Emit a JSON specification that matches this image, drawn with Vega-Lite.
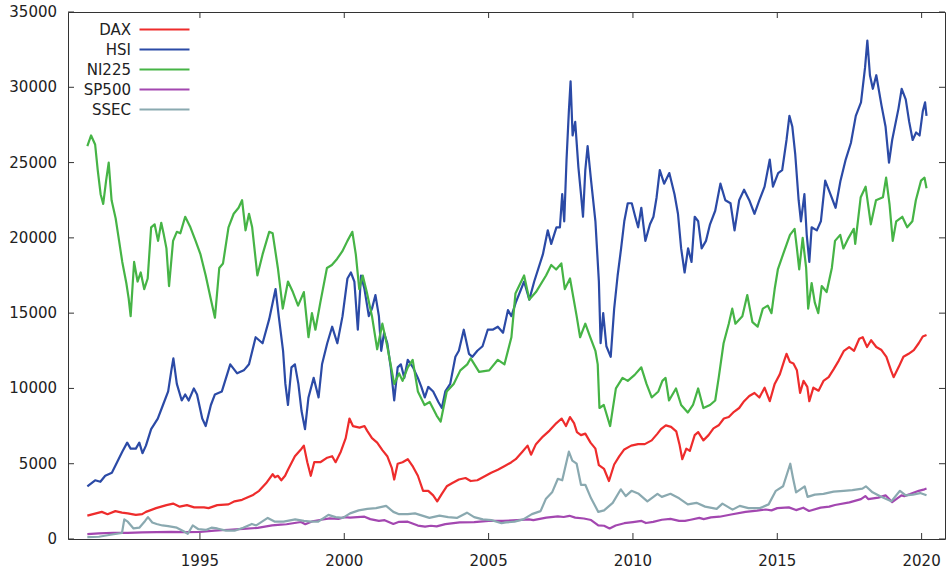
{
"$schema": "https://vega.github.io/schema/vega-lite/v6.json",
"width": 877, "height": 527,
"autosize": "none",
"padding": {"left": 68, "top": 12, "right": 5, "bottom": 32},
"background": "white",
"config": {
  "view": {"stroke": "#333", "strokeWidth": 1},
  "font": "DejaVu Sans"
},
"datasets": {
"xt": [{"tx":1995},{"tx":2000},{"tx":2005},{"tx":2010},{"tx":2015},{"tx":2020}],
"yt": [{"ty":0},{"ty":5000},{"ty":10000},{"ty":15000},{"ty":20000},{"ty":25000},{"ty":30000},{"ty":35000}],
"idx": [
{"s":"DAX","t":1991.1,"v":1550},{"s":"DAX","t":1991.3,"v":1650},{"s":"DAX","t":1991.6,"v":1800},{"s":"DAX","t":1991.8,"v":1650},{"s":"DAX","t":1992.07,"v":1850},{"s":"DAX","t":1992.3,"v":1750},{"s":"DAX","t":1992.5,"v":1700},{"s":"DAX","t":1992.78,"v":1600},{"s":"DAX","t":1993.0,"v":1650},{"s":"DAX","t":1993.13,"v":1800},{"s":"DAX","t":1993.48,"v":2050},{"s":"DAX","t":1993.84,"v":2250},{"s":"DAX","t":1994.07,"v":2350},{"s":"DAX","t":1994.3,"v":2150},{"s":"DAX","t":1994.55,"v":2250},{"s":"DAX","t":1994.8,"v":2100},{"s":"DAX","t":1995.14,"v":2100},{"s":"DAX","t":1995.3,"v":2050},{"s":"DAX","t":1995.6,"v":2250},{"s":"DAX","t":1995.99,"v":2300},{"s":"DAX","t":1996.2,"v":2500},{"s":"DAX","t":1996.46,"v":2600},{"s":"DAX","t":1996.82,"v":2900},{"s":"DAX","t":1997.05,"v":3200},{"s":"DAX","t":1997.29,"v":3700},{"s":"DAX","t":1997.52,"v":4300},{"s":"DAX","t":1997.6,"v":4100},{"s":"DAX","t":1997.7,"v":4200},{"s":"DAX","t":1997.82,"v":3900},{"s":"DAX","t":1997.95,"v":4200},{"s":"DAX","t":1998.05,"v":4600},{"s":"DAX","t":1998.29,"v":5500},{"s":"DAX","t":1998.52,"v":6000},{"s":"DAX","t":1998.6,"v":6200},{"s":"DAX","t":1998.72,"v":5100},{"s":"DAX","t":1998.84,"v":4200},{"s":"DAX","t":1998.96,"v":5100},{"s":"DAX","t":1999.17,"v":5100},{"s":"DAX","t":1999.41,"v":5400},{"s":"DAX","t":1999.58,"v":5500},{"s":"DAX","t":1999.7,"v":5100},{"s":"DAX","t":1999.88,"v":5800},{"s":"DAX","t":2000.05,"v":6700},{"s":"DAX","t":2000.18,"v":8000},{"s":"DAX","t":2000.3,"v":7500},{"s":"DAX","t":2000.53,"v":7400},{"s":"DAX","t":2000.7,"v":7500},{"s":"DAX","t":2000.79,"v":7200},{"s":"DAX","t":2000.96,"v":6700},{"s":"DAX","t":2001.14,"v":6400},{"s":"DAX","t":2001.32,"v":5900},{"s":"DAX","t":2001.49,"v":5500},{"s":"DAX","t":2001.65,"v":4700},{"s":"DAX","t":2001.73,"v":3950},{"s":"DAX","t":2001.85,"v":5000},{"s":"DAX","t":2002.02,"v":5100},{"s":"DAX","t":2002.2,"v":5300},{"s":"DAX","t":2002.38,"v":4800},{"s":"DAX","t":2002.55,"v":4200},{"s":"DAX","t":2002.73,"v":3200},{"s":"DAX","t":2002.91,"v":3200},{"s":"DAX","t":2003.08,"v":2900},{"s":"DAX","t":2003.22,"v":2500},{"s":"DAX","t":2003.38,"v":3000},{"s":"DAX","t":2003.55,"v":3500},{"s":"DAX","t":2003.73,"v":3700},{"s":"DAX","t":2003.97,"v":3950},{"s":"DAX","t":2004.2,"v":4050},{"s":"DAX","t":2004.38,"v":3850},{"s":"DAX","t":2004.61,"v":3900},{"s":"DAX","t":2004.85,"v":4150},{"s":"DAX","t":2005.09,"v":4400},{"s":"DAX","t":2005.32,"v":4600},{"s":"DAX","t":2005.56,"v":4850},{"s":"DAX","t":2005.79,"v":5100},{"s":"DAX","t":2005.94,"v":5300},{"s":"DAX","t":2006.17,"v":5800},{"s":"DAX","t":2006.35,"v":6200},{"s":"DAX","t":2006.47,"v":5600},{"s":"DAX","t":2006.64,"v":6300},{"s":"DAX","t":2006.88,"v":6800},{"s":"DAX","t":2007.11,"v":7200},{"s":"DAX","t":2007.35,"v":7700},{"s":"DAX","t":2007.53,"v":8000},{"s":"DAX","t":2007.68,"v":7500},{"s":"DAX","t":2007.82,"v":8100},{"s":"DAX","t":2007.96,"v":7700},{"s":"DAX","t":2008.06,"v":7100},{"s":"DAX","t":2008.2,"v":6900},{"s":"DAX","t":2008.35,"v":7000},{"s":"DAX","t":2008.53,"v":6400},{"s":"DAX","t":2008.7,"v":6000},{"s":"DAX","t":2008.82,"v":4900},{"s":"DAX","t":2009.0,"v":4650},{"s":"DAX","t":2009.17,"v":3850},{"s":"DAX","t":2009.35,"v":4950},{"s":"DAX","t":2009.53,"v":5500},{"s":"DAX","t":2009.7,"v":5950},{"s":"DAX","t":2009.94,"v":6200},{"s":"DAX","t":2010.18,"v":6300},{"s":"DAX","t":2010.41,"v":6300},{"s":"DAX","t":2010.65,"v":6550},{"s":"DAX","t":2010.85,"v":7000},{"s":"DAX","t":2010.97,"v":7300},{"s":"DAX","t":2011.14,"v":7550},{"s":"DAX","t":2011.32,"v":7450},{"s":"DAX","t":2011.5,"v":7150},{"s":"DAX","t":2011.61,"v":6300},{"s":"DAX","t":2011.71,"v":5300},{"s":"DAX","t":2011.85,"v":6000},{"s":"DAX","t":2011.97,"v":5850},{"s":"DAX","t":2012.14,"v":6900},{"s":"DAX","t":2012.26,"v":7100},{"s":"DAX","t":2012.44,"v":6550},{"s":"DAX","t":2012.62,"v":6900},{"s":"DAX","t":2012.79,"v":7350},{"s":"DAX","t":2012.97,"v":7550},{"s":"DAX","t":2013.15,"v":8000},{"s":"DAX","t":2013.32,"v":8100},{"s":"DAX","t":2013.5,"v":8450},{"s":"DAX","t":2013.68,"v":8700},{"s":"DAX","t":2013.85,"v":9150},{"s":"DAX","t":2014.03,"v":9500},{"s":"DAX","t":2014.21,"v":9700},{"s":"DAX","t":2014.38,"v":9400},{"s":"DAX","t":2014.56,"v":10050},{"s":"DAX","t":2014.74,"v":9150},{"s":"DAX","t":2014.91,"v":10300},{"s":"DAX","t":2015.09,"v":10950},{"s":"DAX","t":2015.24,"v":11850},{"s":"DAX","t":2015.32,"v":12300},{"s":"DAX","t":2015.44,"v":11750},{"s":"DAX","t":2015.56,"v":11650},{"s":"DAX","t":2015.68,"v":11200},{"s":"DAX","t":2015.79,"v":9700},{"s":"DAX","t":2015.91,"v":10500},{"s":"DAX","t":2016.04,"v":10100},{"s":"DAX","t":2016.11,"v":9150},{"s":"DAX","t":2016.25,"v":10050},{"s":"DAX","t":2016.43,"v":9850},{"s":"DAX","t":2016.6,"v":10500},{"s":"DAX","t":2016.78,"v":10750},{"s":"DAX","t":2016.96,"v":11300},{"s":"DAX","t":2017.13,"v":11850},{"s":"DAX","t":2017.31,"v":12500},{"s":"DAX","t":2017.49,"v":12750},{"s":"DAX","t":2017.66,"v":12500},{"s":"DAX","t":2017.84,"v":13300},{"s":"DAX","t":2017.96,"v":13400},{"s":"DAX","t":2018.11,"v":12750},{"s":"DAX","t":2018.25,"v":13200},{"s":"DAX","t":2018.43,"v":12750},{"s":"DAX","t":2018.61,"v":12550},{"s":"DAX","t":2018.78,"v":12100},{"s":"DAX","t":2018.94,"v":11200},{"s":"DAX","t":2019.03,"v":10750},{"s":"DAX","t":2019.2,"v":11400},{"s":"DAX","t":2019.37,"v":12100},{"s":"DAX","t":2019.55,"v":12300},{"s":"DAX","t":2019.73,"v":12550},{"s":"DAX","t":2019.9,"v":13000},{"s":"DAX","t":2020.04,"v":13450},{"s":"DAX","t":2020.17,"v":13550},
{"s":"HSI","t":1991.1,"v":3500},{"s":"HSI","t":1991.37,"v":3900},{"s":"HSI","t":1991.55,"v":3800},{"s":"HSI","t":1991.72,"v":4200},{"s":"HSI","t":1991.95,"v":4400},{"s":"HSI","t":1992.13,"v":5100},{"s":"HSI","t":1992.31,"v":5800},{"s":"HSI","t":1992.48,"v":6400},{"s":"HSI","t":1992.6,"v":6000},{"s":"HSI","t":1992.78,"v":6000},{"s":"HSI","t":1992.9,"v":6400},{"s":"HSI","t":1993.01,"v":5700},{"s":"HSI","t":1993.13,"v":6200},{"s":"HSI","t":1993.31,"v":7300},{"s":"HSI","t":1993.54,"v":8000},{"s":"HSI","t":1993.72,"v":8900},{"s":"HSI","t":1993.9,"v":9800},{"s":"HSI","t":1994.01,"v":11200},{"s":"HSI","t":1994.08,"v":12000},{"s":"HSI","t":1994.2,"v":10300},{"s":"HSI","t":1994.37,"v":9200},{"s":"HSI","t":1994.49,"v":9600},{"s":"HSI","t":1994.61,"v":9200},{"s":"HSI","t":1994.79,"v":10000},{"s":"HSI","t":1994.9,"v":9600},{"s":"HSI","t":1995.08,"v":8000},{"s":"HSI","t":1995.2,"v":7500},{"s":"HSI","t":1995.38,"v":8900},{"s":"HSI","t":1995.52,"v":9600},{"s":"HSI","t":1995.76,"v":9800},{"s":"HSI","t":1996.05,"v":11600},{"s":"HSI","t":1996.29,"v":11000},{"s":"HSI","t":1996.52,"v":11200},{"s":"HSI","t":1996.7,"v":11600},{"s":"HSI","t":1996.93,"v":13400},{"s":"HSI","t":1997.17,"v":13000},{"s":"HSI","t":1997.4,"v":14600},{"s":"HSI","t":1997.62,"v":16600},{"s":"HSI","t":1997.73,"v":14800},{"s":"HSI","t":1997.88,"v":12500},{"s":"HSI","t":1997.96,"v":10300},{"s":"HSI","t":1998.05,"v":8900},{"s":"HSI","t":1998.17,"v":11400},{"s":"HSI","t":1998.29,"v":11600},{"s":"HSI","t":1998.41,"v":10300},{"s":"HSI","t":1998.52,"v":8500},{"s":"HSI","t":1998.64,"v":7300},{"s":"HSI","t":1998.76,"v":9400},{"s":"HSI","t":1998.94,"v":10700},{"s":"HSI","t":1999.11,"v":9400},{"s":"HSI","t":1999.23,"v":11600},{"s":"HSI","t":1999.41,"v":13000},{"s":"HSI","t":1999.58,"v":14100},{"s":"HSI","t":1999.76,"v":13000},{"s":"HSI","t":1999.94,"v":14800},{"s":"HSI","t":2000.11,"v":17300},{"s":"HSI","t":2000.23,"v":17700},{"s":"HSI","t":2000.35,"v":17100},{"s":"HSI","t":2000.47,"v":13900},{"s":"HSI","t":2000.58,"v":17500},{"s":"HSI","t":2000.7,"v":16600},{"s":"HSI","t":2000.85,"v":14800},{"s":"HSI","t":2000.96,"v":15300},{"s":"HSI","t":2001.08,"v":16200},{"s":"HSI","t":2001.2,"v":14800},{"s":"HSI","t":2001.28,"v":12500},{"s":"HSI","t":2001.38,"v":13700},{"s":"HSI","t":2001.49,"v":13000},{"s":"HSI","t":2001.61,"v":11400},{"s":"HSI","t":2001.73,"v":9200},{"s":"HSI","t":2001.85,"v":11400},{"s":"HSI","t":2001.96,"v":11600},{"s":"HSI","t":2002.08,"v":10700},{"s":"HSI","t":2002.2,"v":11900},{"s":"HSI","t":2002.38,"v":11400},{"s":"HSI","t":2002.55,"v":10700},{"s":"HSI","t":2002.67,"v":10100},{"s":"HSI","t":2002.79,"v":9400},{"s":"HSI","t":2002.91,"v":10100},{"s":"HSI","t":2003.08,"v":9800},{"s":"HSI","t":2003.26,"v":9100},{"s":"HSI","t":2003.38,"v":8700},{"s":"HSI","t":2003.5,"v":9800},{"s":"HSI","t":2003.67,"v":10300},{"s":"HSI","t":2003.85,"v":12100},{"s":"HSI","t":2003.97,"v":12500},{"s":"HSI","t":2004.14,"v":13900},{"s":"HSI","t":2004.32,"v":12300},{"s":"HSI","t":2004.44,"v":12100},{"s":"HSI","t":2004.61,"v":12500},{"s":"HSI","t":2004.79,"v":12800},{"s":"HSI","t":2004.97,"v":13900},{"s":"HSI","t":2005.14,"v":13900},{"s":"HSI","t":2005.32,"v":14100},{"s":"HSI","t":2005.5,"v":13700},{"s":"HSI","t":2005.67,"v":15200},{"s":"HSI","t":2005.79,"v":14800},{"s":"HSI","t":2005.94,"v":15700},{"s":"HSI","t":2006.23,"v":17100},{"s":"HSI","t":2006.41,"v":15900},{"s":"HSI","t":2006.58,"v":17100},{"s":"HSI","t":2006.88,"v":18900},{"s":"HSI","t":2007.05,"v":20500},{"s":"HSI","t":2007.17,"v":19600},{"s":"HSI","t":2007.35,"v":20700},{"s":"HSI","t":2007.47,"v":20700},{"s":"HSI","t":2007.55,"v":22900},{"s":"HSI","t":2007.62,"v":21100},{"s":"HSI","t":2007.7,"v":25200},{"s":"HSI","t":2007.78,"v":28400},{"s":"HSI","t":2007.84,"v":30400},{"s":"HSI","t":2007.91,"v":26800},{"s":"HSI","t":2008.0,"v":27700},{"s":"HSI","t":2008.11,"v":24700},{"s":"HSI","t":2008.2,"v":22900},{"s":"HSI","t":2008.27,"v":21400},{"s":"HSI","t":2008.35,"v":24500},{"s":"HSI","t":2008.43,"v":26100},{"s":"HSI","t":2008.55,"v":23800},{"s":"HSI","t":2008.7,"v":21100},{"s":"HSI","t":2008.82,"v":17100},{"s":"HSI","t":2008.88,"v":13000},{"s":"HSI","t":2008.97,"v":15000},{"s":"HSI","t":2009.08,"v":12800},{"s":"HSI","t":2009.23,"v":12100},{"s":"HSI","t":2009.35,"v":15300},{"s":"HSI","t":2009.47,"v":17500},{"s":"HSI","t":2009.59,"v":19300},{"s":"HSI","t":2009.7,"v":21100},{"s":"HSI","t":2009.82,"v":22300},{"s":"HSI","t":2009.96,"v":22300},{"s":"HSI","t":2010.08,"v":21400},{"s":"HSI","t":2010.18,"v":20700},{"s":"HSI","t":2010.29,"v":22000},{"s":"HSI","t":2010.43,"v":19800},{"s":"HSI","t":2010.59,"v":20900},{"s":"HSI","t":2010.71,"v":21400},{"s":"HSI","t":2010.82,"v":22700},{"s":"HSI","t":2010.93,"v":24500},{"s":"HSI","t":2011.08,"v":23600},{"s":"HSI","t":2011.26,"v":24300},{"s":"HSI","t":2011.44,"v":22900},{"s":"HSI","t":2011.56,"v":21600},{"s":"HSI","t":2011.67,"v":19300},{"s":"HSI","t":2011.79,"v":17700},{"s":"HSI","t":2011.91,"v":19300},{"s":"HSI","t":2012.03,"v":18400},{"s":"HSI","t":2012.14,"v":21400},{"s":"HSI","t":2012.26,"v":21100},{"s":"HSI","t":2012.38,"v":19300},{"s":"HSI","t":2012.53,"v":19800},{"s":"HSI","t":2012.67,"v":20900},{"s":"HSI","t":2012.85,"v":21800},{"s":"HSI","t":2013.03,"v":23600},{"s":"HSI","t":2013.2,"v":22500},{"s":"HSI","t":2013.38,"v":22300},{"s":"HSI","t":2013.52,"v":20500},{"s":"HSI","t":2013.68,"v":22500},{"s":"HSI","t":2013.85,"v":23200},{"s":"HSI","t":2014.03,"v":22500},{"s":"HSI","t":2014.21,"v":21600},{"s":"HSI","t":2014.38,"v":22500},{"s":"HSI","t":2014.56,"v":23400},{"s":"HSI","t":2014.74,"v":25200},{"s":"HSI","t":2014.85,"v":23400},{"s":"HSI","t":2015.03,"v":24300},{"s":"HSI","t":2015.17,"v":24500},{"s":"HSI","t":2015.32,"v":26500},{"s":"HSI","t":2015.42,"v":28100},{"s":"HSI","t":2015.52,"v":27400},{"s":"HSI","t":2015.62,"v":25600},{"s":"HSI","t":2015.74,"v":22500},{"s":"HSI","t":2015.82,"v":21100},{"s":"HSI","t":2015.94,"v":22900},{"s":"HSI","t":2016.02,"v":20200},{"s":"HSI","t":2016.11,"v":18400},{"s":"HSI","t":2016.19,"v":20700},{"s":"HSI","t":2016.37,"v":20500},{"s":"HSI","t":2016.51,"v":21100},{"s":"HSI","t":2016.66,"v":23800},{"s":"HSI","t":2016.84,"v":22900},{"s":"HSI","t":2017.02,"v":22000},{"s":"HSI","t":2017.19,"v":23800},{"s":"HSI","t":2017.37,"v":25200},{"s":"HSI","t":2017.55,"v":26300},{"s":"HSI","t":2017.72,"v":28100},{"s":"HSI","t":2017.9,"v":29000},{"s":"HSI","t":2018.04,"v":31300},{"s":"HSI","t":2018.12,"v":33100},{"s":"HSI","t":2018.21,"v":30800},{"s":"HSI","t":2018.31,"v":29900},{"s":"HSI","t":2018.43,"v":30800},{"s":"HSI","t":2018.61,"v":28800},{"s":"HSI","t":2018.75,"v":27400},{"s":"HSI","t":2018.87,"v":25000},{"s":"HSI","t":2018.98,"v":26500},{"s":"HSI","t":2019.2,"v":28600},{"s":"HSI","t":2019.31,"v":29900},{"s":"HSI","t":2019.45,"v":29200},{"s":"HSI","t":2019.57,"v":27700},{"s":"HSI","t":2019.69,"v":26500},{"s":"HSI","t":2019.81,"v":27000},{"s":"HSI","t":2019.93,"v":26800},{"s":"HSI","t":2020.04,"v":28400},{"s":"HSI","t":2020.12,"v":29000},{"s":"HSI","t":2020.17,"v":28100},
{"s":"NI225","t":1991.1,"v":26100},{"s":"NI225","t":1991.23,"v":26800},{"s":"NI225","t":1991.37,"v":26200},{"s":"NI225","t":1991.46,"v":24500},{"s":"NI225","t":1991.56,"v":22900},{"s":"NI225","t":1991.65,"v":22250},{"s":"NI225","t":1991.75,"v":23800},{"s":"NI225","t":1991.84,"v":25000},{"s":"NI225","t":1991.94,"v":22500},{"s":"NI225","t":1992.08,"v":21300},{"s":"NI225","t":1992.2,"v":19800},{"s":"NI225","t":1992.31,"v":18400},{"s":"NI225","t":1992.45,"v":17000},{"s":"NI225","t":1992.53,"v":16000},{"s":"NI225","t":1992.6,"v":14800},{"s":"NI225","t":1992.72,"v":18400},{"s":"NI225","t":1992.84,"v":17100},{"s":"NI225","t":1992.95,"v":17700},{"s":"NI225","t":1993.07,"v":16600},{"s":"NI225","t":1993.19,"v":17300},{"s":"NI225","t":1993.31,"v":20700},{"s":"NI225","t":1993.43,"v":20900},{"s":"NI225","t":1993.55,"v":19800},{"s":"NI225","t":1993.66,"v":21000},{"s":"NI225","t":1993.75,"v":20200},{"s":"NI225","t":1993.84,"v":19300},{"s":"NI225","t":1993.93,"v":16800},{"s":"NI225","t":1994.07,"v":19800},{"s":"NI225","t":1994.2,"v":20400},{"s":"NI225","t":1994.32,"v":20300},{"s":"NI225","t":1994.49,"v":21400},{"s":"NI225","t":1994.67,"v":20700},{"s":"NI225","t":1994.85,"v":19800},{"s":"NI225","t":1995.02,"v":18900},{"s":"NI225","t":1995.2,"v":17500},{"s":"NI225","t":1995.38,"v":15900},{"s":"NI225","t":1995.52,"v":14700},{"s":"NI225","t":1995.67,"v":18000},{"s":"NI225","t":1995.8,"v":18300},{"s":"NI225","t":1995.99,"v":20700},{"s":"NI225","t":1996.17,"v":21600},{"s":"NI225","t":1996.34,"v":22000},{"s":"NI225","t":1996.46,"v":22500},{"s":"NI225","t":1996.58,"v":20500},{"s":"NI225","t":1996.7,"v":21600},{"s":"NI225","t":1996.81,"v":20700},{"s":"NI225","t":1996.99,"v":17500},{"s":"NI225","t":1997.17,"v":18900},{"s":"NI225","t":1997.4,"v":20400},{"s":"NI225","t":1997.52,"v":20300},{"s":"NI225","t":1997.7,"v":18000},{"s":"NI225","t":1997.87,"v":15300},{"s":"NI225","t":1998.05,"v":17100},{"s":"NI225","t":1998.22,"v":16400},{"s":"NI225","t":1998.4,"v":15500},{"s":"NI225","t":1998.6,"v":16400},{"s":"NI225","t":1998.76,"v":13400},{"s":"NI225","t":1998.88,"v":15000},{"s":"NI225","t":1999.0,"v":13900},{"s":"NI225","t":1999.17,"v":15700},{"s":"NI225","t":1999.4,"v":18000},{"s":"NI225","t":1999.57,"v":18200},{"s":"NI225","t":1999.75,"v":18600},{"s":"NI225","t":1999.93,"v":19100},{"s":"NI225","t":2000.11,"v":19800},{"s":"NI225","t":2000.28,"v":20400},{"s":"NI225","t":2000.4,"v":18900},{"s":"NI225","t":2000.52,"v":16600},{"s":"NI225","t":2000.64,"v":17500},{"s":"NI225","t":2000.78,"v":16400},{"s":"NI225","t":2000.96,"v":14800},{"s":"NI225","t":2001.14,"v":12600},{"s":"NI225","t":2001.32,"v":14300},{"s":"NI225","t":2001.49,"v":12800},{"s":"NI225","t":2001.73,"v":10300},{"s":"NI225","t":2001.9,"v":11000},{"s":"NI225","t":2002.02,"v":10500},{"s":"NI225","t":2002.2,"v":11400},{"s":"NI225","t":2002.37,"v":11900},{"s":"NI225","t":2002.55,"v":9800},{"s":"NI225","t":2002.78,"v":8900},{"s":"NI225","t":2002.96,"v":9100},{"s":"NI225","t":2003.2,"v":8200},{"s":"NI225","t":2003.34,"v":7800},{"s":"NI225","t":2003.55,"v":9800},{"s":"NI225","t":2003.79,"v":10300},{"s":"NI225","t":2004.02,"v":11200},{"s":"NI225","t":2004.26,"v":11600},{"s":"NI225","t":2004.38,"v":12000},{"s":"NI225","t":2004.67,"v":11100},{"s":"NI225","t":2005.02,"v":11200},{"s":"NI225","t":2005.32,"v":11900},{"s":"NI225","t":2005.55,"v":11600},{"s":"NI225","t":2005.79,"v":13400},{"s":"NI225","t":2005.93,"v":16300},{"s":"NI225","t":2006.23,"v":17500},{"s":"NI225","t":2006.41,"v":15900},{"s":"NI225","t":2006.64,"v":16400},{"s":"NI225","t":2006.99,"v":17500},{"s":"NI225","t":2007.17,"v":18200},{"s":"NI225","t":2007.34,"v":17900},{"s":"NI225","t":2007.52,"v":18300},{"s":"NI225","t":2007.64,"v":16600},{"s":"NI225","t":2007.82,"v":17300},{"s":"NI225","t":2008.05,"v":14800},{"s":"NI225","t":2008.17,"v":13400},{"s":"NI225","t":2008.35,"v":14300},{"s":"NI225","t":2008.52,"v":13400},{"s":"NI225","t":2008.7,"v":12500},{"s":"NI225","t":2008.78,"v":11600},{"s":"NI225","t":2008.84,"v":8700},{"s":"NI225","t":2008.99,"v":8900},{"s":"NI225","t":2009.21,"v":7500},{"s":"NI225","t":2009.41,"v":10000},{"s":"NI225","t":2009.64,"v":10700},{"s":"NI225","t":2009.82,"v":10500},{"s":"NI225","t":2010.06,"v":10900},{"s":"NI225","t":2010.29,"v":11400},{"s":"NI225","t":2010.47,"v":10300},{"s":"NI225","t":2010.65,"v":9400},{"s":"NI225","t":2010.88,"v":9800},{"s":"NI225","t":2011.02,"v":10500},{"s":"NI225","t":2011.13,"v":10700},{"s":"NI225","t":2011.25,"v":9200},{"s":"NI225","t":2011.49,"v":10000},{"s":"NI225","t":2011.67,"v":8900},{"s":"NI225","t":2011.9,"v":8400},{"s":"NI225","t":2012.08,"v":8900},{"s":"NI225","t":2012.26,"v":10000},{"s":"NI225","t":2012.44,"v":8700},{"s":"NI225","t":2012.67,"v":8900},{"s":"NI225","t":2012.85,"v":9200},{"s":"NI225","t":2012.97,"v":10700},{"s":"NI225","t":2013.14,"v":13000},{"s":"NI225","t":2013.32,"v":14300},{"s":"NI225","t":2013.44,"v":15300},{"s":"NI225","t":2013.55,"v":14300},{"s":"NI225","t":2013.79,"v":14800},{"s":"NI225","t":2013.96,"v":16200},{"s":"NI225","t":2014.14,"v":14400},{"s":"NI225","t":2014.32,"v":14100},{"s":"NI225","t":2014.5,"v":15300},{"s":"NI225","t":2014.67,"v":15500},{"s":"NI225","t":2014.8,"v":15000},{"s":"NI225","t":2014.91,"v":16600},{"s":"NI225","t":2015.02,"v":17900},{"s":"NI225","t":2015.2,"v":18900},{"s":"NI225","t":2015.44,"v":20200},{"s":"NI225","t":2015.6,"v":20600},{"s":"NI225","t":2015.68,"v":19300},{"s":"NI225","t":2015.76,"v":17900},{"s":"NI225","t":2015.88,"v":20000},{"s":"NI225","t":2016.0,"v":18000},{"s":"NI225","t":2016.07,"v":15300},{"s":"NI225","t":2016.19,"v":17000},{"s":"NI225","t":2016.3,"v":15700},{"s":"NI225","t":2016.42,"v":15000},{"s":"NI225","t":2016.54,"v":16800},{"s":"NI225","t":2016.71,"v":16400},{"s":"NI225","t":2016.89,"v":18000},{"s":"NI225","t":2017.0,"v":19800},{"s":"NI225","t":2017.18,"v":20200},{"s":"NI225","t":2017.29,"v":19300},{"s":"NI225","t":2017.47,"v":20000},{"s":"NI225","t":2017.65,"v":20600},{"s":"NI225","t":2017.7,"v":19600},{"s":"NI225","t":2017.89,"v":22700},{"s":"NI225","t":2018.06,"v":23400},{"s":"NI225","t":2018.24,"v":20900},{"s":"NI225","t":2018.42,"v":22500},{"s":"NI225","t":2018.66,"v":22700},{"s":"NI225","t":2018.77,"v":24000},{"s":"NI225","t":2018.89,"v":22200},{"s":"NI225","t":2019.0,"v":19800},{"s":"NI225","t":2019.12,"v":21100},{"s":"NI225","t":2019.33,"v":21400},{"s":"NI225","t":2019.5,"v":20700},{"s":"NI225","t":2019.68,"v":21100},{"s":"NI225","t":2019.8,"v":22500},{"s":"NI225","t":2019.98,"v":23800},{"s":"NI225","t":2020.1,"v":24000},{"s":"NI225","t":2020.17,"v":23300},
{"s":"SP500","t":1991.1,"v":330},{"s":"SP500","t":1991.5,"v":380},{"s":"SP500","t":1992.0,"v":415},{"s":"SP500","t":1992.5,"v":410},{"s":"SP500","t":1993.0,"v":435},{"s":"SP500","t":1993.5,"v":450},{"s":"SP500","t":1994.0,"v":470},{"s":"SP500","t":1994.5,"v":455},{"s":"SP500","t":1995.0,"v":465},{"s":"SP500","t":1995.5,"v":560},{"s":"SP500","t":1996.0,"v":615},{"s":"SP500","t":1996.5,"v":670},{"s":"SP500","t":1997.0,"v":740},{"s":"SP500","t":1997.5,"v":900},{"s":"SP500","t":1997.8,"v":950},{"s":"SP500","t":1998.0,"v":980},{"s":"SP500","t":1998.5,"v":1130},{"s":"SP500","t":1998.65,"v":980},{"s":"SP500","t":1998.9,"v":1180},{"s":"SP500","t":1999.2,"v":1280},{"s":"SP500","t":1999.5,"v":1370},{"s":"SP500","t":1999.8,"v":1330},{"s":"SP500","t":2000.0,"v":1450},{"s":"SP500","t":2000.2,"v":1420},{"s":"SP500","t":2000.7,"v":1480},{"s":"SP500","t":2000.9,"v":1320},{"s":"SP500","t":2001.2,"v":1200},{"s":"SP500","t":2001.4,"v":1250},{"s":"SP500","t":2001.7,"v":1000},{"s":"SP500","t":2001.9,"v":1140},{"s":"SP500","t":2002.2,"v":1150},{"s":"SP500","t":2002.55,"v":890},{"s":"SP500","t":2002.8,"v":820},{"s":"SP500","t":2003.0,"v":880},{"s":"SP500","t":2003.2,"v":840},{"s":"SP500","t":2003.5,"v":990},{"s":"SP500","t":2004.0,"v":1110},{"s":"SP500","t":2004.5,"v":1120},{"s":"SP500","t":2005.0,"v":1200},{"s":"SP500","t":2005.5,"v":1200},{"s":"SP500","t":2006.0,"v":1260},{"s":"SP500","t":2006.4,"v":1300},{"s":"SP500","t":2006.55,"v":1250},{"s":"SP500","t":2007.0,"v":1420},{"s":"SP500","t":2007.4,"v":1500},{"s":"SP500","t":2007.6,"v":1460},{"s":"SP500","t":2007.8,"v":1540},{"s":"SP500","t":2008.0,"v":1420},{"s":"SP500","t":2008.3,"v":1360},{"s":"SP500","t":2008.55,"v":1260},{"s":"SP500","t":2008.8,"v":900},{"s":"SP500","t":2009.0,"v":880},{"s":"SP500","t":2009.19,"v":700},{"s":"SP500","t":2009.4,"v":900},{"s":"SP500","t":2009.7,"v":1050},{"s":"SP500","t":2010.0,"v":1120},{"s":"SP500","t":2010.3,"v":1200},{"s":"SP500","t":2010.45,"v":1060},{"s":"SP500","t":2010.7,"v":1140},{"s":"SP500","t":2011.0,"v":1280},{"s":"SP500","t":2011.3,"v":1340},{"s":"SP500","t":2011.6,"v":1200},{"s":"SP500","t":2011.8,"v":1200},{"s":"SP500","t":2012.0,"v":1280},{"s":"SP500","t":2012.3,"v":1400},{"s":"SP500","t":2012.45,"v":1320},{"s":"SP500","t":2012.7,"v":1440},{"s":"SP500","t":2013.0,"v":1480},{"s":"SP500","t":2013.4,"v":1630},{"s":"SP500","t":2013.9,"v":1800},{"s":"SP500","t":2014.3,"v":1880},{"s":"SP500","t":2014.6,"v":1960},{"s":"SP500","t":2014.8,"v":1900},{"s":"SP500","t":2015.0,"v":2050},{"s":"SP500","t":2015.4,"v":2100},{"s":"SP500","t":2015.65,"v":1920},{"s":"SP500","t":2015.9,"v":2080},{"s":"SP500","t":2016.1,"v":1860},{"s":"SP500","t":2016.5,"v":2080},{"s":"SP500","t":2016.8,"v":2150},{"s":"SP500","t":2017.0,"v":2260},{"s":"SP500","t":2017.5,"v":2430},{"s":"SP500","t":2017.9,"v":2650},{"s":"SP500","t":2018.05,"v":2850},{"s":"SP500","t":2018.15,"v":2650},{"s":"SP500","t":2018.5,"v":2750},{"s":"SP500","t":2018.75,"v":2900},{"s":"SP500","t":2018.98,"v":2450},{"s":"SP500","t":2019.3,"v":2900},{"s":"SP500","t":2019.4,"v":2850},{"s":"SP500","t":2019.6,"v":2980},{"s":"SP500","t":2019.9,"v":3200},{"s":"SP500","t":2020.1,"v":3300},{"s":"SP500","t":2020.17,"v":3350},
{"s":"SSEC","t":1991.1,"v":130},{"s":"SSEC","t":1991.5,"v":150},{"s":"SSEC","t":1991.9,"v":280},{"s":"SSEC","t":1992.3,"v":400},{"s":"SSEC","t":1992.38,"v":1300},{"s":"SSEC","t":1992.5,"v":1150},{"s":"SSEC","t":1992.7,"v":700},{"s":"SSEC","t":1992.9,"v":750},{"s":"SSEC","t":1993.1,"v":1200},{"s":"SSEC","t":1993.2,"v":1450},{"s":"SSEC","t":1993.35,"v":1100},{"s":"SSEC","t":1993.5,"v":1000},{"s":"SSEC","t":1993.7,"v":900},{"s":"SSEC","t":1993.9,"v":850},{"s":"SSEC","t":1994.2,"v":750},{"s":"SSEC","t":1994.45,"v":500},{"s":"SSEC","t":1994.58,"v":350},{"s":"SSEC","t":1994.75,"v":900},{"s":"SSEC","t":1994.95,"v":650},{"s":"SSEC","t":1995.2,"v":600},{"s":"SSEC","t":1995.4,"v":750},{"s":"SSEC","t":1995.6,"v":700},{"s":"SSEC","t":1995.9,"v":560},{"s":"SSEC","t":1996.2,"v":550},{"s":"SSEC","t":1996.5,"v":750},{"s":"SSEC","t":1996.8,"v":1000},{"s":"SSEC","t":1996.95,"v":900},{"s":"SSEC","t":1997.35,"v":1400},{"s":"SSEC","t":1997.6,"v":1150},{"s":"SSEC","t":1997.9,"v":1150},{"s":"SSEC","t":1998.3,"v":1300},{"s":"SSEC","t":1998.6,"v":1200},{"s":"SSEC","t":1998.85,"v":1150},{"s":"SSEC","t":1999.1,"v":1150},{"s":"SSEC","t":1999.45,"v":1600},{"s":"SSEC","t":1999.7,"v":1450},{"s":"SSEC","t":1999.95,"v":1400},{"s":"SSEC","t":2000.2,"v":1700},{"s":"SSEC","t":2000.5,"v":1900},{"s":"SSEC","t":2000.8,"v":2000},{"s":"SSEC","t":2001.1,"v":2050},{"s":"SSEC","t":2001.45,"v":2200},{"s":"SSEC","t":2001.7,"v":1800},{"s":"SSEC","t":2001.9,"v":1650},{"s":"SSEC","t":2002.2,"v":1650},{"s":"SSEC","t":2002.45,"v":1700},{"s":"SSEC","t":2002.7,"v":1550},{"s":"SSEC","t":2002.95,"v":1400},{"s":"SSEC","t":2003.3,"v":1550},{"s":"SSEC","t":2003.6,"v":1450},{"s":"SSEC","t":2003.9,"v":1400},{"s":"SSEC","t":2004.25,"v":1750},{"s":"SSEC","t":2004.5,"v":1450},{"s":"SSEC","t":2004.8,"v":1300},{"s":"SSEC","t":2005.1,"v":1250},{"s":"SSEC","t":2005.45,"v":1050},{"s":"SSEC","t":2005.6,"v":1100},{"s":"SSEC","t":2005.9,"v":1150},{"s":"SSEC","t":2006.2,"v":1300},{"s":"SSEC","t":2006.5,"v":1650},{"s":"SSEC","t":2006.8,"v":1850},{"s":"SSEC","t":2006.98,"v":2650},{"s":"SSEC","t":2007.2,"v":3100},{"s":"SSEC","t":2007.4,"v":4000},{"s":"SSEC","t":2007.55,"v":3900},{"s":"SSEC","t":2007.78,"v":5800},{"s":"SSEC","t":2007.9,"v":5200},{"s":"SSEC","t":2008.05,"v":5000},{"s":"SSEC","t":2008.2,"v":3600},{"s":"SSEC","t":2008.35,"v":3600},{"s":"SSEC","t":2008.55,"v":2700},{"s":"SSEC","t":2008.8,"v":1800},{"s":"SSEC","t":2009.0,"v":1900},{"s":"SSEC","t":2009.3,"v":2400},{"s":"SSEC","t":2009.58,"v":3300},{"s":"SSEC","t":2009.75,"v":2850},{"s":"SSEC","t":2009.95,"v":3200},{"s":"SSEC","t":2010.2,"v":3000},{"s":"SSEC","t":2010.5,"v":2500},{"s":"SSEC","t":2010.85,"v":3000},{"s":"SSEC","t":2011.0,"v":2800},{"s":"SSEC","t":2011.3,"v":3000},{"s":"SSEC","t":2011.6,"v":2700},{"s":"SSEC","t":2011.9,"v":2300},{"s":"SSEC","t":2012.2,"v":2400},{"s":"SSEC","t":2012.5,"v":2150},{"s":"SSEC","t":2012.9,"v":2000},{"s":"SSEC","t":2013.1,"v":2350},{"s":"SSEC","t":2013.45,"v":1950},{"s":"SSEC","t":2013.7,"v":2200},{"s":"SSEC","t":2014.0,"v":2050},{"s":"SSEC","t":2014.4,"v":2050},{"s":"SSEC","t":2014.7,"v":2300},{"s":"SSEC","t":2014.95,"v":3200},{"s":"SSEC","t":2015.2,"v":3500},{"s":"SSEC","t":2015.45,"v":5000},{"s":"SSEC","t":2015.55,"v":4000},{"s":"SSEC","t":2015.65,"v":3100},{"s":"SSEC","t":2015.8,"v":3300},{"s":"SSEC","t":2015.95,"v":3500},{"s":"SSEC","t":2016.05,"v":2800},{"s":"SSEC","t":2016.3,"v":2950},{"s":"SSEC","t":2016.6,"v":3000},{"s":"SSEC","t":2016.95,"v":3150},{"s":"SSEC","t":2017.3,"v":3200},{"s":"SSEC","t":2017.6,"v":3250},{"s":"SSEC","t":2017.95,"v":3350},{"s":"SSEC","t":2018.07,"v":3500},{"s":"SSEC","t":2018.3,"v":3100},{"s":"SSEC","t":2018.6,"v":2800},{"s":"SSEC","t":2018.95,"v":2500},{"s":"SSEC","t":2019.25,"v":3200},{"s":"SSEC","t":2019.45,"v":2900},{"s":"SSEC","t":2019.7,"v":2950},{"s":"SSEC","t":2019.95,"v":3050},{"s":"SSEC","t":2020.17,"v":2900}
]},
"layer": [
  {
    "data": {"name": "idx"},
    "mark": {"type": "line", "strokeWidth": 2.2, "strokeJoin": "round"},
    "encoding": {
      "x": {"field": "t", "type": "quantitative", "scale": {"domain": [1990.43, 2020.81], "nice": false, "zero": false}, "axis": null},
      "y": {"field": "v", "type": "quantitative", "scale": {"domain": [0, 35000], "nice": false}, "axis": null},
      "color": {"field": "s", "type": "nominal",
        "scale": {"domain": ["DAX", "HSI", "NI225", "SP500", "SSEC"], "range": ["#ee2c2c", "#2b4aa6", "#46b446", "#a347b0", "#8aa9b0"]},
        "legend": {"orient": "none", "legendX": 0, "legendY": 10, "title": null, "symbolType": "M-5,0H5", "symbolSize": 100, "symbolStrokeWidth": 2, "symbolOffset": 89, "labelAlign": "right", "labelOffset": -41, "labelFont": "DejaVu Sans", "labelFontSize": 15, "labelColor": "#222", "rowPadding": 4, "padding": 0}}
    }
  },
  {
    "data": {"name": "xt"},
    "mark": {"type": "tick", "orient": "vertical", "size": 6, "thickness": 1, "color": "#333", "opacity": 1},
    "encoding": {
      "x": {"field": "tx", "type": "quantitative", "scale": {"domain": [1990.43, 2020.81], "nice": false, "zero": false}, "axis": null},
      "y": {"datum": 200, "type": "quantitative", "scale": {"domain": [0, 35000], "nice": false}, "axis": null}
    }
  },
  {
    "data": {"name": "xt"},
    "mark": {"type": "tick", "orient": "vertical", "size": 6, "thickness": 1, "color": "#333", "opacity": 1},
    "encoding": {
      "x": {"field": "tx", "type": "quantitative", "scale": {"domain": [1990.43, 2020.81], "nice": false, "zero": false}, "axis": null},
      "y": {"datum": 34800, "type": "quantitative", "scale": {"domain": [0, 35000], "nice": false}, "axis": null}
    }
  },
  {
    "data": {"name": "yt"},
    "mark": {"type": "tick", "orient": "horizontal", "size": 6, "thickness": 1, "color": "#333", "opacity": 1},
    "encoding": {
      "y": {"field": "ty", "type": "quantitative", "scale": {"domain": [0, 35000], "nice": false}, "axis": null},
      "x": {"datum": 1990.534, "type": "quantitative", "scale": {"domain": [1990.43, 2020.81], "nice": false, "zero": false}, "axis": null}
    }
  },
  {
    "data": {"name": "yt"},
    "mark": {"type": "tick", "orient": "horizontal", "size": 6, "thickness": 1, "color": "#333", "opacity": 1},
    "encoding": {
      "y": {"field": "ty", "type": "quantitative", "scale": {"domain": [0, 35000], "nice": false}, "axis": null},
      "x": {"datum": 2020.706, "type": "quantitative", "scale": {"domain": [1990.43, 2020.81], "nice": false, "zero": false}, "axis": null}
    }
  },
  {
    "data": {"name": "xt"},
    "mark": {"type": "text", "align": "center", "baseline": "top", "font": "DejaVu Sans", "fontSize": 15, "color": "#222"},
    "encoding": {
      "x": {"field": "tx", "type": "quantitative", "scale": {"domain": [1990.43, 2020.81], "nice": false, "zero": false}, "axis": null},
      "y": {"datum": -1000, "type": "quantitative", "scale": {"domain": [0, 35000], "nice": false}, "axis": null},
      "text": {"field": "tx", "type": "quantitative", "format": "d"}
    }
  },
  {
    "data": {"name": "yt"},
    "mark": {"type": "text", "align": "right", "baseline": "middle", "font": "DejaVu Sans", "fontSize": 15, "color": "#222"},
    "encoding": {
      "y": {"field": "ty", "type": "quantitative", "scale": {"domain": [0, 35000], "nice": false}, "axis": null},
      "x": {"datum": 1990.05, "type": "quantitative", "scale": {"domain": [1990.43, 2020.81], "nice": false, "zero": false}, "axis": null},
      "text": {"field": "ty", "type": "quantitative", "format": "d"}
    }
  }
]
}
